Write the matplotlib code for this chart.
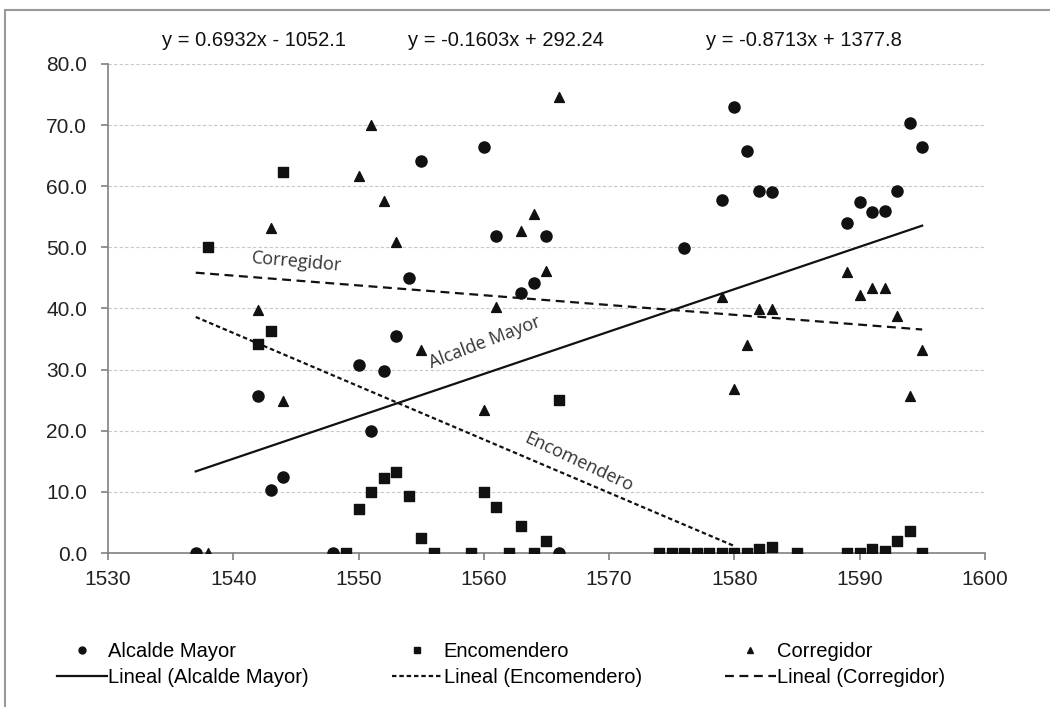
import numpy as np
import matplotlib
matplotlib.use('Agg')
import matplotlib.pyplot as plt
from matplotlib.patches import Rectangle
from matplotlib.lines import Line2D

plt.rcParams['font.family'] = ['Liberation Sans', 'DejaVu Sans']

# Alcalde Mayor (circles)
alc_years = [1537, 1542, 1543, 1544, 1548, 1550, 1551, 1552, 1553, 1554, 1555,
             1560, 1561, 1563, 1564, 1565, 1566, 1576, 1579, 1580, 1581, 1582,
             1583, 1589, 1590, 1591, 1592, 1593, 1594, 1595]
alc_vals = [0.0, 25.7, 10.3, 12.5, 0.0, 30.7, 19.9, 29.7, 35.5, 45.0, 64.2,
            66.5, 51.8, 42.6, 44.2, 51.8, 0.0, 49.9, 57.8, 72.9, 65.7, 59.2,
            59.0, 54.0, 57.5, 55.8, 56.0, 59.2, 70.3, 66.5]

# Encomendero (squares)
enc_years = [1538, 1542, 1543, 1544, 1549, 1550, 1551, 1552, 1553, 1554, 1555,
             1556, 1559, 1560, 1561, 1562, 1563, 1564, 1565, 1566,
             1574, 1575, 1576, 1577, 1578, 1579, 1580, 1581, 1582, 1583,
             1585, 1589, 1590, 1591, 1592, 1593, 1594, 1595]
enc_vals = [50.0, 34.2, 36.3, 62.4, 0.0, 7.2, 9.9, 12.3, 13.2, 9.3, 2.4,
            0.0, 0.0, 9.9, 7.6, 0.0, 4.5, 0.0, 2.0, 25.0,
            0.0, 0.0, 0.0, 0.0, 0.0, 0.0, 0.0, 0.0, 0.7, 1.0,
            0.0, 0.0, 0.0, 0.7, 0.4, 1.9, 3.6, 0.0]

# Corregidor (triangles)
cor_years = [1538, 1542, 1543, 1544, 1550, 1551, 1552, 1553, 1555, 1560, 1561,
             1563, 1564, 1565, 1566, 1579, 1580, 1581, 1582, 1583, 1589, 1590,
             1591, 1592, 1593, 1594, 1595]
cor_vals = [0.0, 39.8, 53.1, 24.9, 61.6, 70.0, 57.6, 50.8, 33.2, 23.4, 40.2,
            52.6, 55.4, 46.1, 74.6, 41.9, 26.9, 34.1, 39.9, 39.9, 45.9, 42.2,
            43.3, 43.3, 38.7, 25.7, 33.2]

# trend lines (slope, intercept) and their x spans
alc_fit = [0.6932, -1052.1]
enc_fit = [-0.8713, 1377.8]
cor_fit = [-0.1603, 292.24]
alc_span = [1537, 1595]
enc_span = [1537, 1580]
cor_span = [1537, 1595]

equations = ['y = 0.6932x - 1052.1', 'y = -0.1603x + 292.24', 'y = -0.8713x + 1377.8']

fig = plt.figure(figsize=(10.5, 7.07), dpi=100)
ax = fig.add_axes([0.1029, 0.2178, 0.835, 0.6917])

ax.scatter(alc_years, alc_vals, marker='o', s=64, color='#111111', zorder=3)
ax.scatter(enc_years, enc_vals, marker='s', s=60, color='#111111', zorder=3)
ax.scatter(cor_years, cor_vals, marker='^', s=50, color='#111111', zorder=3)

xs = np.array(alc_span)
ax.plot(xs, np.polyval(alc_fit, xs), color='#111111', lw=1.6, zorder=2)
xs = np.array(enc_span)
ax.plot(xs, np.polyval(enc_fit, xs), color='#111111', lw=1.6,
        linestyle=(0, (2, 1.3)), zorder=2)
xs = np.array(cor_span)
ax.plot(xs, np.polyval(cor_fit, xs), color='#111111', lw=1.6,
        linestyle=(0, (4, 2.5)), zorder=2)

lab = dict(family=['Open Sans', 'DejaVu Sans'], fontsize=13, color='#333333',
           ha='center', va='center', rotation_mode='anchor')
ax.text(1545.1, 47.6, 'Corregidor', rotation=-5, **lab)
ax.text(1560.1, 34.4, 'Alcalde Mayor', rotation=21, **lab)
ax.text(1567.6, 14.8, 'Encomendero', rotation=-25, **lab)

ax.set_xlim(1530, 1600)
ax.set_ylim(0, 80)
ax.set_xticks(range(1530, 1601, 10))
ax.set_yticks(range(0, 81, 10))
ax.set_yticklabels(['%.1f' % v for v in range(0, 81, 10)])
ax.grid(axis='y', color='#c8c8c8', linestyle=(0, (3, 2)), lw=0.8)
ax.set_axisbelow(True)
for s in ['top', 'right']:
    ax.spines[s].set_visible(False)
for s in ['left', 'bottom']:
    ax.spines[s].set_color('#808080')
    ax.spines[s].set_linewidth(1.2)
ax.tick_params(axis='both', direction='out', length=5, width=1.2,
               color='#808080', labelsize=15, labelcolor='#222222')
ax.tick_params(axis='x', pad=7)
ax.tick_params(axis='y', pad=10)

for txt, xc in zip(equations, [0.242, 0.482, 0.766]):
    fig.text(xc, 0.943, txt, ha='center', va='center', fontsize=14.5, color='#111111')

handles = [
    Line2D([], [], marker='o', ls='none', color='#111111', markersize=5),
    Line2D([], [], color='#111111', lw=1.6),
    Line2D([], [], marker='s', ls='none', color='#111111', markersize=5),
    Line2D([], [], color='#111111', lw=1.6, linestyle=(0, (2, 1.3))),
    Line2D([], [], marker='^', ls='none', color='#111111', markersize=5),
    Line2D([], [], color='#111111', lw=1.6, linestyle=(0, (4, 2.5))),
]
labels = ['Alcalde Mayor', 'Lineal (Alcalde Mayor)',
          'Encomendero', 'Lineal (Encomendero)',
          'Corregidor', 'Lineal (Corregidor)']
fig.legend(handles, labels, ncol=3, loc='upper left', bbox_to_anchor=(0.054, 0.092),
           frameon=False, fontsize=14.5, handlelength=2.5, handletextpad=0.05,
           columnspacing=4.15, labelspacing=0.35, borderpad=0, borderaxespad=0)

fig.add_artist(Rectangle((0.005, -0.02), 1.1, 1.006,
                         transform=fig.transFigure, fill=False,
                         edgecolor='#9a9a9a', lw=1.5))

fig.savefig('out.png', dpi=100)
